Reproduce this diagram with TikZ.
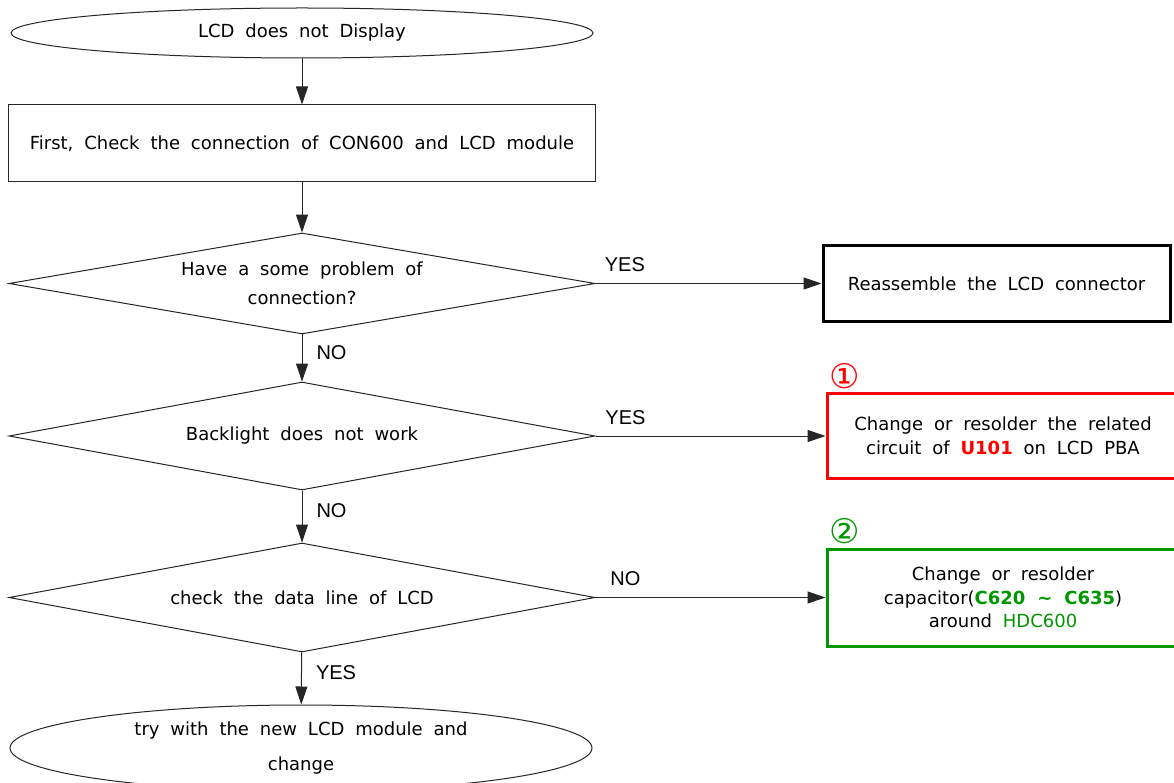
\documentclass[tikz,border=0pt]{standalone}
\usepackage{fontspec}
\setmainfont{DejaVu Sans}[WordSpace=1.9]
\newfontfamily\lblfont{Liberation Sans}
\usetikzlibrary{shapes.geometric,arrows.meta}
\definecolor{fixred}{RGB}{255,0,0}
\definecolor{fixgreen}{RGB}{0,150,0}

\begin{document}
\begin{tikzpicture}[x=1pt,y=-1pt,
        every node/.style={font=\fontsize{18}{23.5}\selectfont, align=center, inner sep=0pt},
        flow/.style={draw=black!85, line width=1pt},
        ask/.style={flow, diamond, aspect=5.6, minimum width=586pt, minimum height=#1},
        arr/.style={flow, -{Triangle[length=18pt,width=12pt]}},
        lbl/.style={font=\lblfont\fontsize{20}{24}\selectfont},
        fix/.style={draw, line width=3pt, minimum width=352pt, minimum height=#1},
        num/.style={font=\fontsize{34}{36}\selectfont}]
        \useasboundingbox (0,0) rectangle (1174,783);
        \clip (0,0) rectangle (1174,783);
        % left column
        \node[flow, ellipse, minimum width=582pt, minimum height=50pt] (start) at (302,33) {LCD does not Display};
        \node[flow, minimum width=587pt, minimum height=77pt] (check) at (302,143.5) {First, Check the connection of CON600 and LCD module};
        \node[ask=101pt] (q1) at (302,283.5) {Have a some problem of\\[5pt]connection?};
        \node[ask=108pt] (q2) at (302,436) {Backlight does not work};
        \node[ask=109pt] (q3) at (302,597.5) {check the data line of LCD};
        \node[flow, ellipse, minimum width=582pt, minimum height=86pt] (stop) at (301,748) {try with the new LCD module and\\[12pt]change};
        % right column
        \node[fix=76pt, minimum width=347pt, draw=black] (reassemble) at (996.5,283.5) {Reassemble the LCD connector};
        \node[fix=85pt, draw=fixred] (fix1) at (1003,436) {Change or resolder the related\\circuit of \textcolor{fixred}{\textbf{U101}} on LCD PBA};
        \node[fix=97pt, draw=fixgreen] (fix2) at (1003,597.5) {Change or resolder\\capacitor(\textcolor{fixgreen}{\textbf{C620 \textasciitilde{} C635}})\\around \textcolor{fixgreen}{HDC600}};
        \node[num, text=fixred] (n1) at (845,376) {①};
        \node[num, text=fixgreen] (n2) at (845,531) {②};
        % connectors
        \draw[arr] (start) -- (check);
        \draw[arr] (check) -- (q1);
        \foreach \a/\b/\l in {q1/q2/NO,q2/q3/NO,q3/stop/YES} {
            \draw[arr] (\a) -- node[lbl, right=14pt, pos=0.38] {\l} (\b);
        }
        \foreach \a/\b/\l in {q1/reassemble/YES,q2/fix1/YES,q3/fix2/NO} {
            \draw[arr] (\a) -- node[lbl, above=11pt, pos=0.13] {\l} (\b);
        }
\end{tikzpicture}
\end{document}
